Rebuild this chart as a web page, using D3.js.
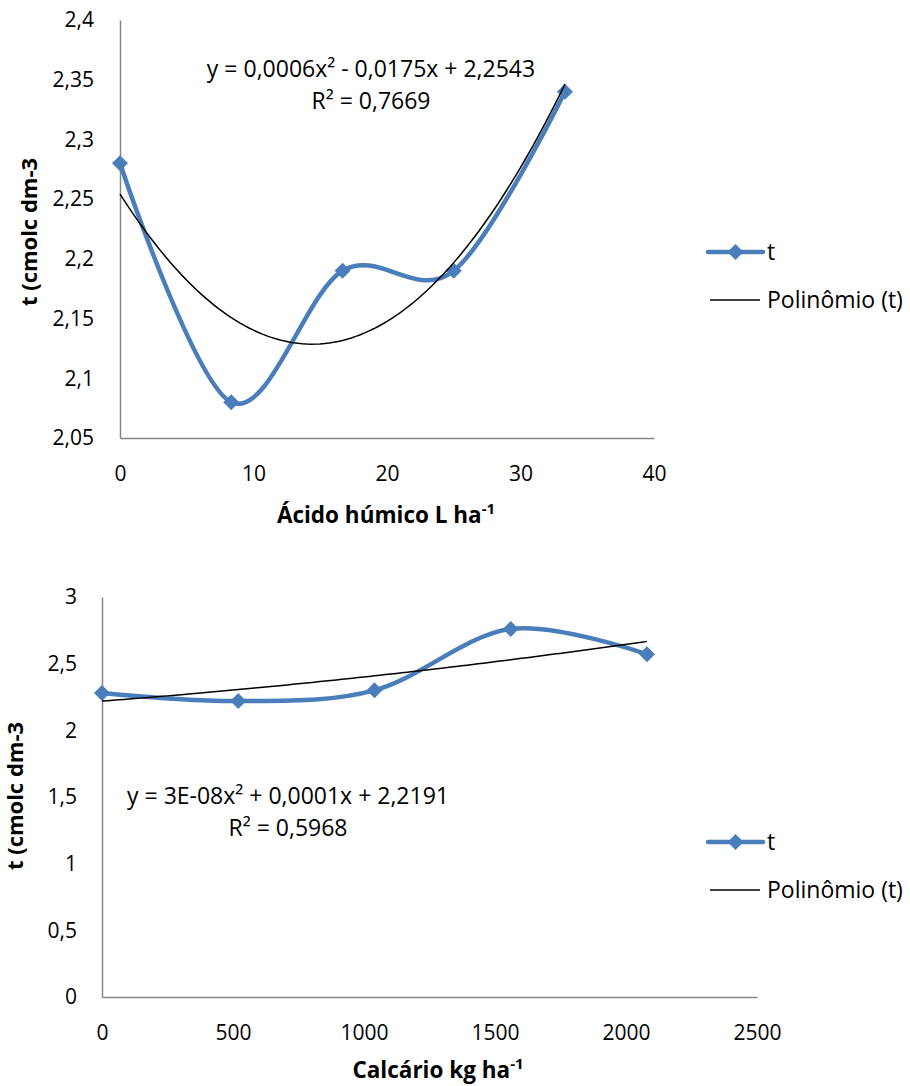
<!DOCTYPE html>
<html>
<head>
<meta charset="utf-8">
<script src="https://cdn.jsdelivr.net/npm/d3@7"></script>
<style>
  body { margin: 0; background: #fff; }
  text { font-family: "Open Sans", Lato, sans-serif; fill: #000; }
</style>
</head>
<body>
<div id="chart"></div>
<script>
var w = 910;
var h = 1086;

// top chart data
var acidoX = [0, 8.33, 16.67, 25, 33.33];
var acidoT = [2.28, 2.08, 2.19, 2.19, 2.34];
var acidoXTicks = [0, 10, 20, 30, 40];
var acidoYTicks = [2.05, 2.1, 2.15, 2.2, 2.25, 2.3, 2.35, 2.4];
var acidoEq = ["y = 0,0006x² - 0,0175x + 2,2543", "R² = 0,7669"];

// bottom chart data
var calcX = [0, 520, 1040, 1560, 2080];
var calcT = [2.28, 2.22, 2.30, 2.76, 2.57];
var calcXTicks = [0, 500, 1000, 1500, 2000, 2500];
var calcYTicks = [0, 0.5, 1, 1.5, 2, 2.5, 3];
var calcEq = ["y = 3E-08x² + 0,0001x + 2,2191", "R² = 0,5968"];

var blue = "#4a7ebb";
var fmt = function(d) { return String(d).replace(".", ","); };

var svg = d3.select("#chart").append("svg")
    .attr("width", w)
    .attr("height", h);

// least squares quadratic fit, returns [a, b, c] for a x^2 + b x + c
function quadFit(xs, ys) {
  var n = xs.length, s = [0, 0, 0, 0, 0], t = [0, 0, 0];
  for (var i = 0; i < n; i++) {
    for (var k = 0; k < 5; k++) s[k] += Math.pow(xs[i], k);
    for (var k = 0; k < 3; k++) t[k] += ys[i] * Math.pow(xs[i], k);
  }
  var m = [[s[0], s[1], s[2], t[0]], [s[1], s[2], s[3], t[1]], [s[2], s[3], s[4], t[2]]];
  for (var c = 0; c < 3; c++) {
    for (var r = c + 1; r < 3; r++) {
      var f = m[r][c] / m[c][c];
      for (var j = c; j < 4; j++) m[r][j] -= f * m[c][j];
    }
  }
  var sol = [0, 0, 0];
  for (var r = 2; r >= 0; r--) {
    var v = m[r][3];
    for (var j = r + 1; j < 3; j++) v -= m[r][j] * sol[j];
    sol[r] = v / m[r][r];
  }
  return [sol[2], sol[1], sol[0]];
}

function drawChart(o) {
  var g = svg.append("g");
  var x = d3.scaleLinear().domain(o.xDomain).range(o.xRange);
  var y = d3.scaleLinear().domain(o.yDomain).range(o.yRange);

  // axes
  var xAxis = d3.axisBottom(x).tickValues(o.xTicks).tickSize(0).tickPadding(o.xPad).tickFormat(fmt);
  var yAxis = d3.axisLeft(y).tickValues(o.yTicks).tickSize(0).tickPadding(o.yPad).tickFormat(fmt);

  var gx = g.append("g").attr("transform", "translate(0," + o.yRange[0] + ")").call(xAxis);
  var gy = g.append("g").attr("transform", "translate(" + o.xRange[0] + ",0)").call(yAxis);
  [gx, gy].forEach(function(a) {
    a.select(".domain").attr("stroke", "#868686").attr("stroke-width", 1.5);
    a.selectAll("text").attr("font-size", 21).attr("fill", "#000")
      .attr("font-family", "'Open Sans', sans-serif");
  });

  // trend line
  var coef = quadFit(o.xs, o.ys);
  var trend = d3.range(0, 101).map(function(i) {
    var xv = o.xs[0] + (o.xs[o.xs.length - 1] - o.xs[0]) * i / 100;
    return [xv, coef[0] * xv * xv + coef[1] * xv + coef[2]];
  });

  // data line
  var pts = o.xs.map(function(d, i) { return [d, o.ys[i]]; });
  g.append("path")
    .datum(pts)
    .attr("fill", "none")
    .attr("stroke", blue)
    .attr("stroke-width", 4.5)
    .attr("stroke-linecap", "round")
    .attr("d", d3.line()
      .x(function(d) { return x(d[0]); })
      .y(function(d) { return y(d[1]); })
      .curve(d3.curveCardinal.tension(0)));

  g.selectAll(".mark")
    .data(pts)
    .enter()
    .append("path")
    .attr("transform", function(d) { return "translate(" + x(d[0]) + "," + y(d[1]) + ")"; })
    .attr("d", "M0,-8L8,0L0,8L-8,0Z")
    .attr("fill", blue);

  g.append("path")
    .datum(trend)
    .attr("fill", "none")
    .attr("stroke", "#000")
    .attr("stroke-width", 1.5)
    .attr("d", d3.line()
      .x(function(d) { return x(d[0]); })
      .y(function(d) { return y(d[1]); }));

  // equation
  g.selectAll(".eq")
    .data(o.eq)
    .enter()
    .append("text")
    .attr("x", o.eqX)
    .attr("y", function(d, i) { return o.eqY + i * 32; })
    .attr("text-anchor", "middle")
    .attr("font-size", 23)
    .text(function(d) { return d; });

  // axis titles
  var xt = g.append("text")
    .attr("x", o.xTitleX)
    .attr("y", o.xTitleY)
    .attr("text-anchor", "middle")
    .attr("font-size", 22.5)
    .attr("font-weight", "bold");
  xt.append("tspan").text(o.xTitle);
  xt.append("tspan").attr("font-size", 15).attr("dy", -9).text("-1");

  g.append("text")
    .attr("transform", "translate(" + o.yTitleX + "," + o.yTitleY + ") rotate(-90)")
    .attr("text-anchor", "middle")
    .attr("font-size", 22)
    .attr("font-weight", "bold")
    .text("t (cmolc dm-3");

  // legend
  var lg = g.append("g").attr("transform", "translate(708," + o.legY + ")");
  lg.append("line").attr("x1", 0).attr("x2", 55).attr("y1", 0).attr("y2", 0)
    .attr("stroke", blue).attr("stroke-width", 4.5).attr("stroke-linecap", "round");
  lg.append("path").attr("transform", "translate(27.5,0)").attr("d", "M0,-8L8,0L0,8L-8,0Z").attr("fill", blue);
  lg.append("text").attr("x", 59).attr("y", 8).attr("font-size", 23).text("t");
  lg.append("line").attr("x1", 2).attr("x2", 52).attr("y1", 48).attr("y2", 48)
    .attr("stroke", "#000").attr("stroke-width", 1.5);
  lg.append("text").attr("x", 59).attr("y", 56).attr("font-size", 23).text("Polinômio (t)");
}

drawChart({
  xs: acidoX, ys: acidoT,
  xDomain: [0, 40], xRange: [120, 654],
  yDomain: [2.05, 2.4], yRange: [438, 20],
  xTicks: acidoXTicks, yTicks: acidoYTicks,
  xPad: 28, yPad: 26,
  eq: acidoEq, eqX: 371, eqY: 77,
  xTitle: "Ácido húmico L ha", xTitleX: 386, xTitleY: 523,
  yTitleX: 37, yTitleY: 232,
  legY: 252
});

drawChart({
  xs: calcX, ys: calcT,
  xDomain: [0, 2500], xRange: [102, 757],
  yDomain: [0, 3], yRange: [997, 597],
  xTicks: calcXTicks, yTicks: calcYTicks,
  xPad: 28, yPad: 25,
  eq: calcEq, eqX: 288, eqY: 804,
  xTitle: "Calcário kg ha", xTitleX: 438, xTitleY: 1078,
  yTitleX: 23, yTitleY: 796,
  legY: 842
});
</script>
</body>
</html>
